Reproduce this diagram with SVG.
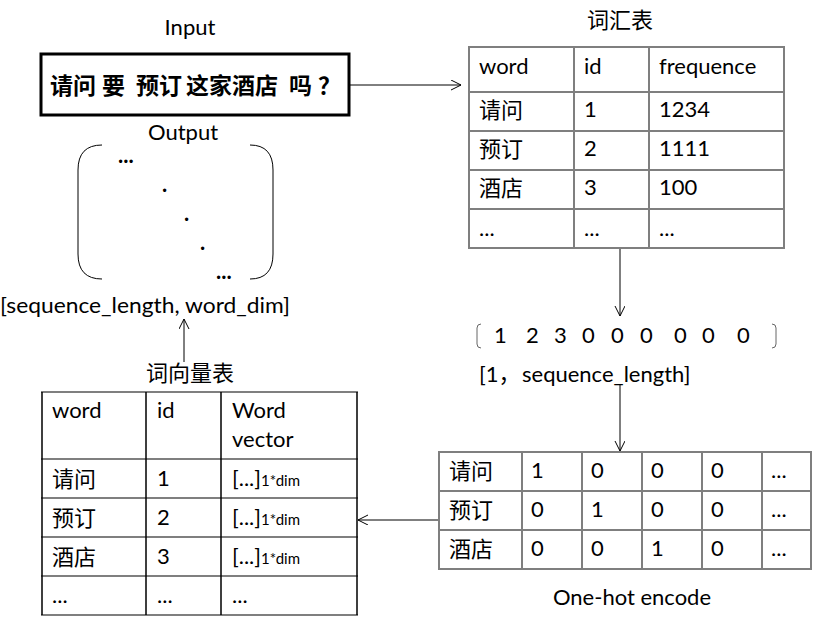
<svg xmlns="http://www.w3.org/2000/svg" width="826" height="626" viewBox="0 0 826 626">
<style>
  text { font-family: Lato, "Liberation Sans", "Noto Sans CJK SC", sans-serif; font-size: 22px; fill: #000; }
  .cjk { font-family: "Noto Sans CJK SC", sans-serif; font-size: 22px; }
  .bold { font-family: "Noto Sans CJK SC", sans-serif; font-weight: bold; font-size: 23px; }
  .sub { font-size: 15px; }
  .hl { stroke: #7f7f7f; stroke-width: 2; fill: none; }
  .vl { stroke: #7f7f7f; stroke-width: 2; fill: none; }
  .vd { stroke: #000; stroke-width: 1.5; fill: none; }
  .conn { stroke: #000; stroke-width: 1; fill: none; marker-end: url(#arr); }
  .br { stroke: #000; stroke-width: 1; fill: none; }
  .thin { stroke: #666; stroke-width: 1; fill: none; }
</style>
<defs>
  <marker id="arr" markerWidth="12" markerHeight="12" refX="10" refY="5" orient="auto" markerUnits="userSpaceOnUse">
    <path d="M0,0 L10,5 L0,10" fill="none" stroke="#000" stroke-width="1"/>
  </marker>
</defs>
<rect width="826" height="626" fill="#fff"/>

<g id="input">
  <text x="190" y="35" text-anchor="middle">Input</text>
  <rect x="41" y="54" width="308" height="61" fill="#fff" stroke="#000" stroke-width="3"/>
  <text class="bold" x="50" y="94">请问</text>
  <text class="bold" x="102" y="94">要</text>
  <text class="bold" x="136" y="94">预订</text>
  <text class="bold" x="186" y="94">这家酒店</text>
  <text class="bold" x="289" y="94">吗</text>
  <text class="bold" x="318" y="94">？</text>
</g>

<g id="output">
  <text x="183" y="140" text-anchor="middle">Output</text>
  <path class="br" d="M102,145 Q78,145 78,170 L78,254 Q78,279 102,279"/>
  <path class="br" d="M250,145 Q273,145 273,170 L273,254 Q273,279 250,279"/>
  <text x="118" y="163" font-size="16" font-weight="bold">...</text>
  <text x="162" y="192" font-size="16" font-weight="bold">.</text>
  <text x="184" y="221" font-size="16" font-weight="bold">.</text>
  <text x="200" y="250" font-size="16" font-weight="bold">.</text>
  <text x="216" y="279" font-size="16" font-weight="bold">...</text>
  <text x="0" y="313" textLength="290" lengthAdjust="spacingAndGlyphs">[sequence_length, word_dim]</text>
</g>

<g id="vocab">
  <text class="cjk" x="620" y="28" text-anchor="middle" font-size="23">词汇表</text>
  <path class="hl" d="M468,47 H785 M468,92 H785 M468,131 H785 M468,170 H785 M468,209 H785 M468,248 H785"/>
  <path class="vl" d="M469,47 V248 M574,47 V248 M649,47 V248 M784,47 V248"/>
  <text x="479" y="74">word</text>
  <text x="584" y="74">id</text>
  <text x="659" y="74">frequence</text>
  <text class="cjk" x="479" y="118">请问</text>
  <text x="584" y="117">1</text>
  <text x="659" y="117">1234</text>
  <text class="cjk" x="479" y="157">预订</text>
  <text x="584" y="156">2</text>
  <text x="659" y="156">1111</text>
  <text class="cjk" x="479" y="196">酒店</text>
  <text x="584" y="195">3</text>
  <text x="659" y="195">100</text>
  <text x="479" y="236">...</text>
  <text x="584" y="236">...</text>
  <text x="659" y="236">...</text>
</g>

<g id="sequence">
  <path class="thin" d="M481,324 Q477,324 477,328 L477,344 Q477,348 481,348"/>
  <path class="thin" d="M772,324 Q776,324 776,328 L776,344 Q776,348 772,348"/>
  <text x="494" y="343">1</text>
  <text x="526" y="343">2</text>
  <text x="554" y="343">3</text>
  <text x="582" y="343">0</text>
  <text x="611" y="343">0</text>
  <text x="640" y="343">0</text>
  <text x="674" y="343">0</text>
  <text x="702" y="343">0</text>
  <text x="737" y="343">0</text>
  <text x="479" y="382">[1，</text>
  <text x="522" y="382">sequence_length]</text>
</g>

<g id="onehot">
  <path class="hl" d="M438,452 H812 M438,491 H812 M438,530 H812 M438,569 H812"/>
  <path class="vl" d="M439,452 V569 M522,452 V569 M582,452 V569 M642,452 V569 M702,452 V569 M762,452 V569 M811,452 V569"/>
  <text class="cjk" x="449" y="479">请问</text>
  <text x="531" y="478">1</text><text x="591" y="478">0</text><text x="651" y="478">0</text><text x="711" y="478">0</text><text x="771" y="478">...</text>
  <text class="cjk" x="449" y="518">预订</text>
  <text x="531" y="517">0</text><text x="591" y="517">1</text><text x="651" y="517">0</text><text x="711" y="517">0</text><text x="771" y="517">...</text>
  <text class="cjk" x="449" y="557">酒店</text>
  <text x="531" y="556">0</text><text x="591" y="556">0</text><text x="651" y="556">1</text><text x="711" y="556">0</text><text x="771" y="556">...</text>
  <text x="632" y="605" text-anchor="middle">One-hot encode</text>
</g>

<g id="wordvec">
  <text class="cjk" x="190" y="381" text-anchor="middle" font-size="24">词向量表</text>
  <path class="hl" d="M41,392 H358 M41,459 H358 M41,498 H358 M41,537 H358 M41,576 H358 M41,615 H358"/>
  <path class="vd" d="M42,392 V615 M146,392 V615 M221,392 V615 M357,392 V615"/>
  <text x="52" y="418">word</text>
  <text x="157" y="418">id</text>
  <text x="232" y="418">Word</text>
  <text x="232" y="447">vector</text>
  <text class="cjk" x="52" y="487">请问</text>
  <text x="157" y="486">1</text>
  <text x="232" y="486">[...]<tspan class="sub">1*dim</tspan></text>
  <text class="cjk" x="52" y="526">预订</text>
  <text x="157" y="525">2</text>
  <text x="232" y="525">[...]<tspan class="sub">1*dim</tspan></text>
  <text class="cjk" x="52" y="565">酒店</text>
  <text x="157" y="564">3</text>
  <text x="232" y="564">[...]<tspan class="sub">1*dim</tspan></text>
  <text x="52" y="603">...</text>
  <text x="157" y="603">...</text>
  <text x="232" y="603">...</text>
</g>

<g id="connectors">
  <line class="conn" x1="350" y1="85" x2="461" y2="85"/>
  <line class="conn" x1="620" y1="249" x2="620" y2="316"/>
  <line class="conn" x1="620" y1="385" x2="620" y2="451"/>
  <line class="conn" x1="438" y1="520" x2="358" y2="520"/>
  <line class="conn" x1="184" y1="362" x2="184" y2="319"/>
</g>
</svg>
